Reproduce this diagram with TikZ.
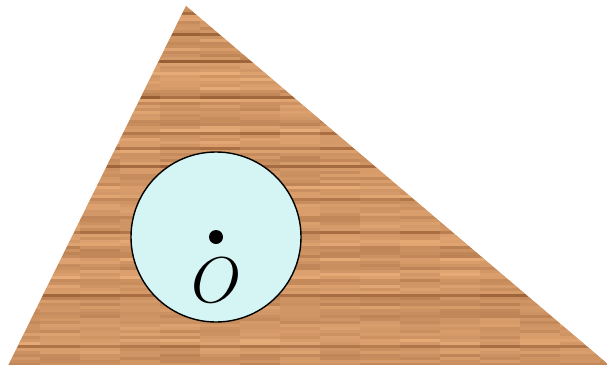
\documentclass[tikz,border=0pt]{standalone}
\usepackage{tikz}
\definecolor{woodlight}{RGB}{236,176,124}
\definecolor{wooddark}{RGB}{135,78,38}
\definecolor{discfill}{RGB}{213,245,245}
\tikzset{
  disc/.style={circle, draw=black, line width=1.4pt, fill=discfill, minimum size=170pt, inner sep=0pt},
  centerdot/.style={circle, fill=black, minimum size=14pt, inner sep=0pt},
  biglabel/.style={inner sep=0pt, font=\Huge, scale=2.6}
}
\begin{document}
\begin{tikzpicture}[x=1pt,y=-1pt]
\useasboundingbox (0,0) rectangle (607,364);
\coordinate (apex) at (186,6);
\coordinate (bl) at (8,366);
\coordinate (br) at (610,366);
\pgfmathsetseed{4242}
\begin{scope}
\clip (apex) -- (bl) -- (br) -- cycle;
\fill[woodlight!75!wooddark] (0,0) rectangle (607,364);
\foreach \r in {0,...,121} {
  \pgfmathsetmacro\base{74+14*rand-36*(rnd<0.14)}
  \foreach \s in {0,...,15} {
    \pgfmathsetmacro\p{max(0,min(100,\base+10*rand))}
    \fill[woodlight!\p!wooddark] (\s*40,\r*3) rectangle ++(40.6,3.4);
  }
}
\end{scope}
\node[disc] (c) at (216,237) {};
\node[centerdot] (o) at (c.center) {};
\node[biglabel] (lab) at (217,280) {$O$};
\end{tikzpicture}
\end{document}
